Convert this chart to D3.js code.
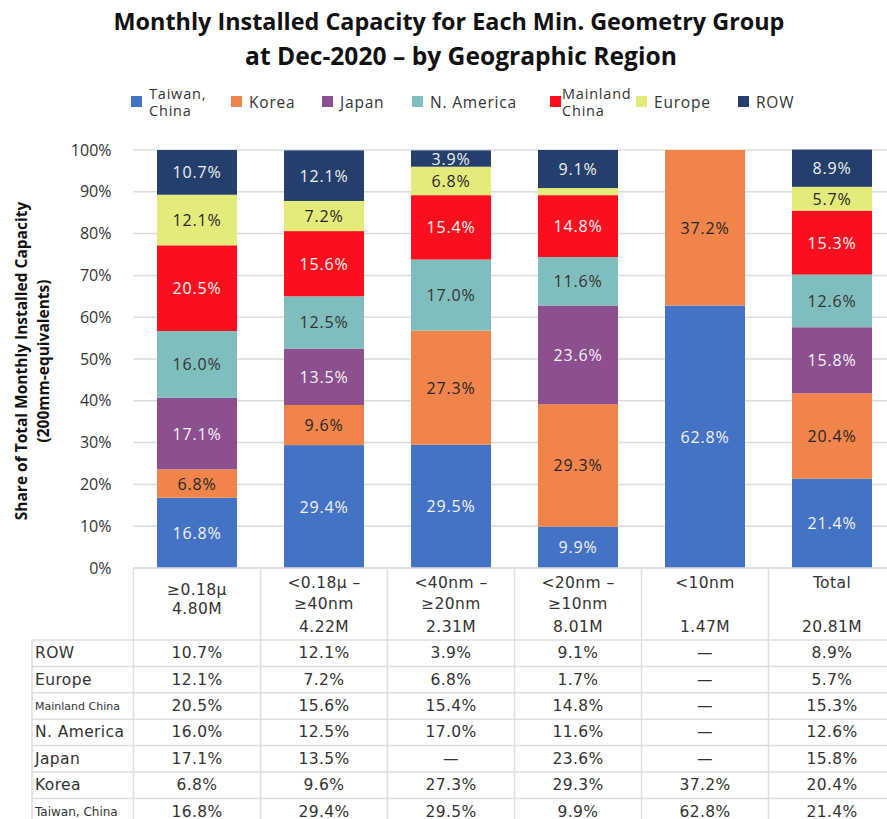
<!DOCTYPE html>
<html>
<head>
<meta charset="utf-8">
<script src="https://cdn.jsdelivr.net/npm/d3@7"></script>
<style>
    body { margin: 0; background: #fff; }
    svg { display: block; }
    .title { font-family: "Open Sans", sans-serif; font-weight: 700; fill: #111; }
    .axis-label { font-family: "Open Sans", sans-serif; font-weight: 700; font-size: 15.5px; fill: #111; }
    .tick-label { font-family: "Open Sans", sans-serif; font-size: 16px; fill: #333; }
    .bar-label { font-family: "Open Sans", sans-serif; font-size: 16px; letter-spacing: 0.8px; }
    .legend-text { font-family: "Open Sans", sans-serif; font-size: 15.5px; letter-spacing: 0.8px; fill: #333; }
    .cell { font-family: "DejaVu Sans", sans-serif; font-size: 15.5px; letter-spacing: 0.4px; fill: #333; }
</style>
</head>
<body>
<script>
// categories (min. geometry groups) and total capacity of each
var groupLabels = [["≥0.18µ"], ["<0.18µ –", "≥40nm"], ["<40nm –", "≥20nm"], ["<20nm –", "≥10nm"], ["<10nm"], ["Total"]]
var capacities = ["4.80M", "4.22M", "2.31M", "8.01M", "1.47M", "20.81M"]

// regions, stacked bottom to top
var regions = ["Taiwan, China", "Korea", "Japan", "N. America", "Mainland China", "Europe", "ROW"]
var legendLabels = [["Taiwan,", "China"], ["Korea"], ["Japan"], ["N. America"], ["Mainland", "China"], ["Europe"], ["ROW"]]

// share (%) per group, 0 = none ("—" in the table)
var taiwan = [16.8, 29.4, 29.5, 9.9, 62.8, 21.4]
var korea = [6.8, 9.6, 27.3, 29.3, 37.2, 20.4]
var japan = [17.1, 13.5, 0, 23.6, 0, 15.8]
var nAmerica = [16.0, 12.5, 17.0, 11.6, 0, 12.6]
var mainland = [20.5, 15.6, 15.4, 14.8, 0, 15.3]
var europe = [12.1, 7.2, 6.8, 1.7, 0, 5.7]
var rowRegion = [10.7, 12.1, 3.9, 9.1, 0, 8.9]

var yTicks = [0, 10, 20, 30, 40, 50, 60, 70, 80, 90, 100]

var colors = ["#4472c4", "#f0844a", "#8c4f90", "#80bebd", "#fa0f1e", "#e5eb7a", "#243f6b"]
var labelColors = ["#f4f4f4", "#262626", "#f4f4f4", "#333", "#f4f4f4", "#262626", "#f0f0f0"]

document.addEventListener('DOMContentLoaded', function () {
    const width = 887
    const height = 819

    // plot area
    const left = 133.5
    const right = 895.5
    const top = 150
    const bottom = 568

    var series = [taiwan, korea, japan, nAmerica, mainland, europe, rowRegion]

    // build rows for d3.stack
    var table = groupLabels.map(function (g, i) {
        var o = { group: i }
        regions.forEach(function (r, j) { o[r] = series[j][i] })
        return o
    })

    var svg = d3.select("body").append("svg")
        .attr("width", width)
        .attr("height", height)

    //title, sized to match the original width
    var titleLines = [
        { text: "Monthly Installed Capacity for Each Min. Geometry Group", x: 449, y: 30, w: 671 },
        { text: "at Dec-2020 – by Geographic Region", x: 461, y: 65, w: 432 }
    ]
    titleLines.forEach(function (t) {
        var el = svg.append("text")
            .attr("class", "title")
            .attr("text-anchor", "middle")
            .attr("x", t.x)
            .attr("y", t.y)
            .style("font-size", "20px")
            .text(t.text)
        var len = el.node().getComputedTextLength()
        el.style("font-size", (20 * t.w / len) + "px")
    })

    //scales
    var xScale = d3.scaleBand()
        .domain(d3.range(groupLabels.length))
        .range([left, right])
        .paddingInner(0.37)
        .paddingOuter(0.185)

    var yScale = d3.scaleLinear()
        .domain([0, 100])
        .range([bottom, top])

    //gridlines
    svg.append("g")
        .selectAll("line")
        .data(yTicks)
        .enter()
        .append("line")
        .attr("x1", left)
        .attr("x2", right)
        .attr("y1", d => yScale(d))
        .attr("y2", d => yScale(d))
        .attr("stroke", "#dcdcdc")
        .attr("stroke-width", 1.5)

    //y axis labels
    var yAxis = d3.axisLeft(yScale)
        .tickValues(yTicks)
        .tickFormat(d => d + "%")
        .tickSize(0)
        .tickPadding(22)
    var yAxisG = svg.append("g")
        .attr("transform", "translate(" + left + ",0)")
        .call(yAxis)
    yAxisG.select(".domain").remove()
    yAxisG.selectAll("text")
        .attr("class", "tick-label")
        .attr("font-family", null)
        .attr("font-size", null)
        .attr("fill", null)

    //y axis title
    var titleG = svg.append("g")
        .attr("transform", "translate(0," + ((top + bottom) / 2 + 2) + ") rotate(-90)")
    titleG.append("text")
        .attr("class", "axis-label")
        .attr("text-anchor", "middle")
        .attr("y", 27)
        .text("Share of Total Monthly Installed Capacity")
    titleG.append("text")
        .attr("class", "axis-label")
        .attr("text-anchor", "middle")
        .attr("y", 49)
        .text("(200mm-equivalents)")

    //stacked bars
    var stacked = d3.stack().keys(regions)(table)

    var layers = svg.append("g")
        .selectAll("g")
        .data(stacked)
        .enter()
        .append("g")
        .attr("fill", (d, i) => colors[i])

    layers.selectAll("rect")
        .data(d => d)
        .enter()
        .append("rect")
        .attr("x", d => xScale(d.data.group))
        .attr("y", d => yScale(d[1]))
        .attr("width", xScale.bandwidth())
        .attr("height", d => yScale(d[0]) - yScale(d[1]))

    //segment labels
    layers.each(function (layer, i) {
        d3.select(this).selectAll("text")
            .data(layer.filter(d => d[1] - d[0] >= 3))
            .enter()
            .append("text")
            .attr("class", "bar-label")
            .attr("text-anchor", "middle")
            .attr("dominant-baseline", "central")
            .attr("fill", labelColors[i])
            .attr("x", d => xScale(d.data.group) + xScale.bandwidth() / 2)
            .attr("y", d => (yScale(d[0]) + yScale(d[1])) / 2)
            .text(d => (d[1] - d[0]).toFixed(1) + "%")
    })

    //legend
    var legendX = [131, 231, 322, 412, 550, 636, 738]
    var legend = svg.append("g")
        .selectAll("g")
        .data(legendLabels)
        .enter()
        .append("g")
        .attr("transform", (d, i) => "translate(" + legendX[i] + ",96)")
    legend.append("rect")
        .attr("width", 11)
        .attr("height", 11)
        .attr("fill", (d, i) => colors[i])
    legend.each(function (lines, i) {
        var g = d3.select(this)
        var tx = i == 4 ? 12 : 18
        lines.forEach(function (line, k) {
            g.append("text")
                .attr("class", "legend-text")
                .attr("x", tx)
                .attr("y", lines.length == 1 ? 5.5 : (k == 0 ? -2.5 : 14))
                .attr("dominant-baseline", "central")
                .style("font-size", lines.length == 1 ? null : "14.5px")
                .text(line)
        })
    })

    //table below the chart
    var tableRows = regions.slice().reverse()
    var rowScale = d3.scaleBand()
        .domain(tableRows)
        .range([640, 640 + 26.4 * tableRows.length])
    var tableBottom = height + 10
    var colStep = xScale.step()
    var grid = svg.append("g")
        .attr("stroke", "#dedede")
        .attr("stroke-width", 1.5)

    //column lines
    grid.selectAll(".col")
        .data(d3.range(groupLabels.length + 1))
        .enter()
        .append("line")
        .attr("x1", d => left + d * colStep)
        .attr("x2", d => left + d * colStep)
        .attr("y1", bottom)
        .attr("y2", tableBottom)
    grid.append("line")
        .attr("x1", 32).attr("x2", 32)
        .attr("y1", 640).attr("y2", tableBottom)

    //row lines
    grid.append("line")
        .attr("x1", left).attr("x2", right)
        .attr("y1", bottom).attr("y2", bottom)
    grid.selectAll(".row")
        .data(tableRows)
        .enter()
        .append("line")
        .attr("x1", 32)
        .attr("x2", right)
        .attr("y1", d => rowScale(d))
        .attr("y2", d => rowScale(d))

    //header cells
    groupLabels.forEach(function (lines, i) {
        var cx = xScale(i) + xScale.bandwidth() / 2
        var ys = i == 0 ? [590] : [583, 604]
        lines.forEach(function (line, k) {
            svg.append("text")
                .attr("class", "cell")
                .attr("text-anchor", "middle")
                .attr("dominant-baseline", "central")
                .attr("x", cx)
                .attr("y", ys[k])
                .text(line)
        })
        svg.append("text")
            .attr("class", "cell")
            .attr("text-anchor", "middle")
            .attr("dominant-baseline", "central")
            .attr("x", cx)
            .attr("y", i == 0 ? 609 : 627)
            .text(capacities[i])
    })

    //row labels
    var smallLabels = { "Mainland China": "11px", "Taiwan, China": "12px" }
    svg.selectAll(".row-label")
        .data(tableRows)
        .enter()
        .append("text")
        .attr("class", "cell")
        .attr("x", 35)
        .attr("y", d => rowScale(d) + rowScale.bandwidth() / 2)
        .attr("dominant-baseline", "central")
        .style("font-size", d => smallLabels[d] || null)
        .style("letter-spacing", d => smallLabels[d] ? "0px" : null)
        .text(d => d)

    //value cells
    tableRows.forEach(function (r) {
        var vals = series[regions.indexOf(r)]
        vals.forEach(function (v, i) {
            svg.append("text")
                .attr("class", "cell")
                .attr("text-anchor", "middle")
                .attr("dominant-baseline", "central")
                .attr("x", xScale(i) + xScale.bandwidth() / 2)
                .attr("y", rowScale(r) + rowScale.bandwidth() / 2)
                .text(v > 0 ? v.toFixed(1) + "%" : "—")
        })
    })
})
</script>
</body>
</html>
